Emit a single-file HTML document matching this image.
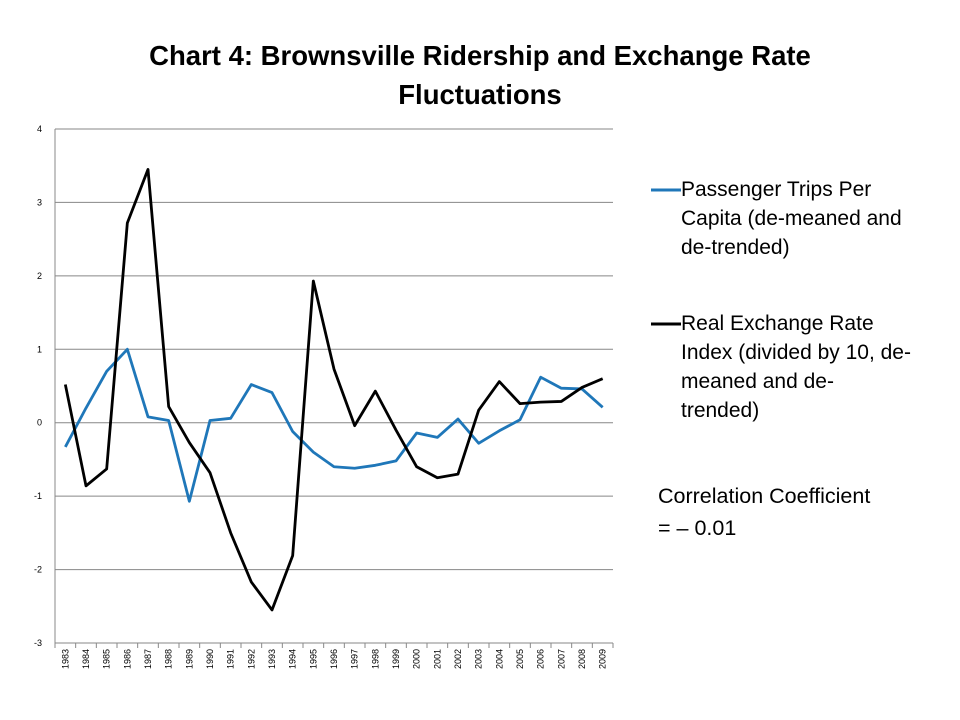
<!DOCTYPE html>
<html><head><meta charset="utf-8"><style>
body{margin:0;background:#fff;font-family:"Liberation Sans",sans-serif;}
#wrap{position:relative;width:960px;height:720px;overflow:hidden;}
.t{position:absolute;font-family:"Liberation Sans",sans-serif;color:#000;white-space:nowrap;}
</style></head><body>
<div id="wrap">
<div class="t" style="left:0;width:960px;top:36px;text-align:center;font-size:27.5px;font-weight:bold;line-height:39px;">Chart 4: Brownsville Ridership and Exchange Rate<br>Fluctuations</div>
<svg id="svg" width="960" height="720" style="position:absolute;left:0;top:0"></svg>
<div class="t" style="left:681px;top:175px;font-size:21px;line-height:29px;">Passenger Trips Per<br>Capita (de-meaned and<br>de-trended)</div>
<div class="t" style="left:681px;top:309px;font-size:21px;line-height:29px;">Real Exchange Rate<br>Index (divided by 10, de-<br>meaned and de-<br>trended)</div>
<div class="t" style="left:658px;top:480px;font-size:21.5px;line-height:32px;">Correlation Coefficient<br>= – 0.01</div>
</div>
<script>
const years=[1983,1984,1985,1986,1987,1988,1989,1990,1991,1992,1993,1994,1995,1996,1997,1998,1999,2000,2001,2002,2003,2004,2005,2006,2007,2008,2009];
const passenger=[-0.33,0.2,0.7,1.0,0.08,0.03,-1.07,0.03,0.06,0.52,0.41,-0.12,-0.4,-0.6,-0.62,-0.58,-0.52,-0.14,-0.2,0.05,-0.28,-0.11,0.04,0.62,0.47,0.46,0.21];
const exchange=[0.52,-0.86,-0.63,2.72,3.45,0.22,-0.27,-0.68,-1.5,-2.17,-2.55,-1.81,1.93,0.73,-0.04,0.43,-0.1,-0.6,-0.75,-0.7,0.17,0.56,0.26,0.28,0.29,0.48,0.6];
const yTicks=[-3,-2,-1,0,1,2,3,4];
const NS="http://www.w3.org/2000/svg";
const svg=document.getElementById('svg');
const L=55,R=613,T=129,B=643,ymin=-3,ymax=4;
const step=(R-L)/years.length;
const xs=i=>L+step*(i+0.5);
const ys=v=>B-(v-ymin)/(ymax-ymin)*(B-T);
function mk(tag,at){const e=document.createElementNS(NS,tag);for(const k in at)e.setAttribute(k,at[k]);svg.appendChild(e);return e;}
yTicks.forEach(v=>{
 const g=mk('line',{x1:L,x2:R,y1:ys(v),y2:ys(v),stroke:'#878787','stroke-width':1});
 
 
 const t=mk('text',{x:L-13,y:ys(v)+3,'font-size':9,'text-anchor':'end','font-family':'Liberation Sans, sans-serif'});
 t.textContent=v;
 
 
});
const ax=mk('line',{x1:L,x2:L,y1:T,y2:B,stroke:'#888'});


for(let i=0;i<=years.length;i++){const tk=mk('line',{x1:L+step*i,x2:L+step*i,y1:B,y2:B+5,stroke:'#888'});
 
 }
years.forEach((y,i)=>{
 const t=mk('text',{x:0,y:0,'font-size':9,'text-anchor':'end','font-family':'Liberation Sans, sans-serif',transform:`translate(${xs(i)+3},${B+6}) rotate(-90)`});
 t.textContent=y;
 
 
});
function line(data,color,name){
 const p=mk('polyline',{points:data.map((v,i)=>xs(i)+','+ys(v)).join(' '),fill:'none',stroke:color,'stroke-width':2.8,'stroke-linejoin':'round'});
 
 
}
line(passenger,'#1f77b9','passenger-line');
line(exchange,'#000','exchange-line');
const l1=mk('line',{x1:651,x2:681,y1:190,y2:190,stroke:'#1f77b9','stroke-width':3});


const l2=mk('line',{x1:651,x2:681,y1:324,y2:324,stroke:'#000','stroke-width':3});


</script>
</body></html>
